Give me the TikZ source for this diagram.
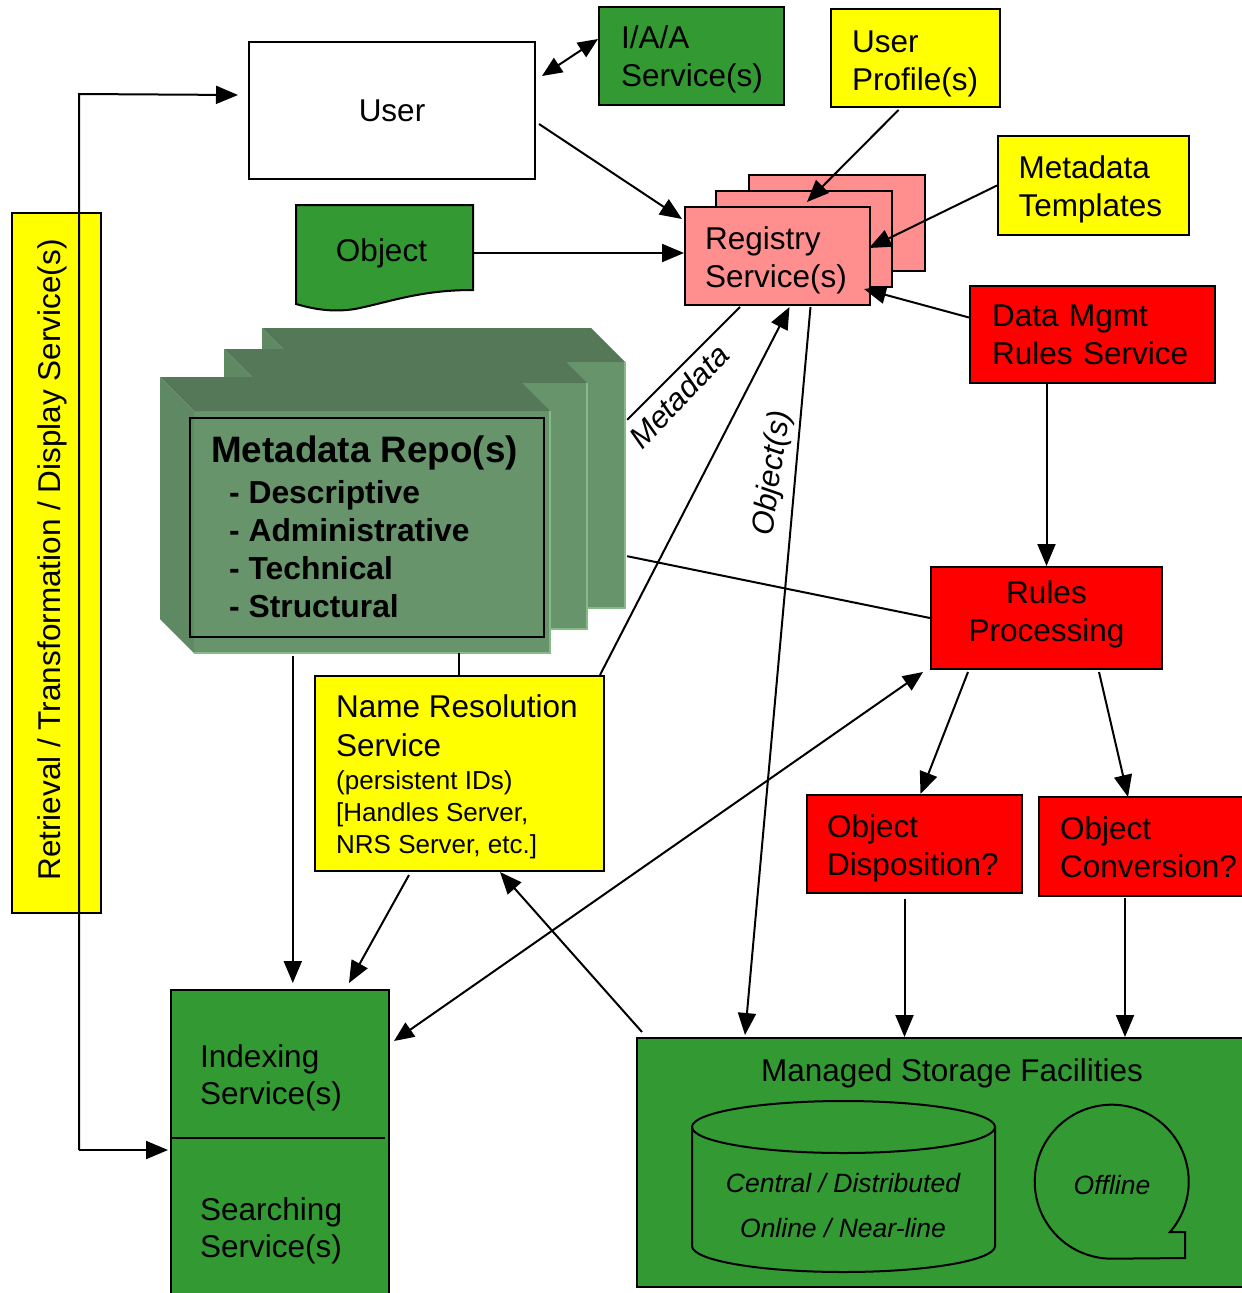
\documentclass[tikz,border=0pt]{standalone}
\usepackage{fontspec}
\setmainfont{Liberation Sans}
\usetikzlibrary{arrows.meta,calc,fit}

\definecolor{gr}{RGB}{51,153,51}
\definecolor{yl}{RGB}{255,255,0}
\definecolor{rd}{RGB}{255,0,0}
\definecolor{regpink}{RGB}{255,143,143}
\definecolor{mdtop}{RGB}{85,121,88}
\definecolor{mdside}{RGB}{95,137,98}
\definecolor{mdfront}{RGB}{104,148,108}
\definecolor{mdedge}{RGB}{134,186,134}

\newcommand\txtL{\fontsize{31.5}{38}\selectfont}
\newcommand\txtS{\fontsize{26}{32}\selectfont}
\newcommand\txtB{\fontsize{36.8}{44}\selectfont\bfseries}
\newcommand\txtM{\fontsize{31.8}{38}\selectfont\bfseries}
\newcommand\txtI{\fontsize{26.5}{32}\selectfont\itshape}
\newcommand\txtLab{\fontsize{31}{36}\selectfont\itshape}
% invisible struts that tune the first line height / last line depth
\newcommand\upstrut[1]{\rule{0pt}{#1pt}}
\newcommand\dnstrut[1]{\rule[-#1pt]{0pt}{#1pt}}

% bevelled repository box: x0, y0, x1, y1, name
\newcommand\repobox[5]{%
  \fill[mdfront] ({#1+34},{#2+34}) rectangle (#3,#4);
  \fill[mdtop] (#1,#2) -- ({#3-34},#2) -- (#3,{#2+34}) -- ({#1+34},{#2+34}) -- cycle;
  \fill[mdside] (#1,#2) -- ({#1+34},{#2+34}) -- ({#1+34},#4) -- (#1,{#4-34}) -- cycle;
  \draw[mdedge, line width=2pt] (#3,{#2+34}) -- (#3,#4) -- ({#1+34},#4);
  \node[fit={(#1,#2) (#3,#4)}, inner sep=0pt] (#5) {};
}

\tikzset{
  box/.style={draw, line width=2pt, anchor=north west, inner ysep=0pt, align=left, font=\txtL},
  plain/.style={line width=2pt},
  arr/.style={line width=2pt, -{Triangle[length=22pt,width=18pt]}},
  darr/.style={line width=2pt, {Triangle[length=20pt,width=17pt]}-{Triangle[length=20pt,width=17pt]}},
  txt/.style={anchor=base west, inner sep=0pt, font=\txtL},
}

\begin{document}
\begin{tikzpicture}[x=1pt,y=-1pt]
\useasboundingbox (0,0) rectangle (1242,1293);
\fill[white] (0,0) rectangle (1242,1293);
\clip (0,0) rectangle (1242,1293);

% ---------- top row ----------
\node[box, fill=white, align=center, text width=286pt, inner xsep=0pt, minimum height=137pt] (user) at (248,41) {User};
\node[box, fill=gr, text width=141pt, inner xsep=22pt, minimum height=98pt] (iaa) at (598,6) {\upstrut{29}I/A/A\\Service(s)};
\node[box, fill=yl, text width=127pt, inner xsep=21pt, minimum height=98pt] (uprof) at (830,8) {\upstrut{33}User\\Profile(s)};
\node[box, fill=yl, text width=150pt, inner xsep=20.5pt, minimum height=99pt] (mtmpl) at (997,135) {\upstrut{31}Metadata\\Templates};

% ---------- registry stack ----------
\node[box, fill=regpink, minimum width=176pt, minimum height=96pt] (reg3) at (748,174) {};
\node[box, fill=regpink, minimum width=176pt, minimum height=96pt] (reg2) at (715,190) {};
\node[box, fill=regpink, text width=145pt, inner xsep=20pt, minimum height=98pt] (reg) at (684,206) {\upstrut{31}Registry\\Service(s)};

\node[box, fill=rd, text width=201pt, inner xsep=22pt, minimum height=97pt] (dmrs) at (969,285) {Data Mgmt\\Rules Service};

% ---------- object document ----------
\filldraw[fill=gr, line width=2pt] (296,205) -- (473,205) -- (473,290)
  .. controls (420,290) and (390,302) .. (355,309)
  .. controls (330,313) and (310,308) .. (296,304) -- cycle;
\node[minimum width=177pt, minimum height=96pt, inner sep=0pt, font=\txtL] (obj) at (384.5,253) {Object\hspace*{6pt}};

% ---------- metadata repositories ----------
\repobox{262}{328}{625}{608}{repo3}
\repobox{224}{349}{587}{629}{repo2}
\repobox{160}{377}{550}{653}{repo1}
\node[draw, line width=2pt, anchor=north west, minimum width=354pt, minimum height=219pt, inner sep=0pt] (repo) at (189,417) {};
\node[anchor=base west, inner sep=0pt, font=\txtB] (repotitle) at (211,462) {Metadata Repo(s)};
\foreach \t [count=\i] in {Descriptive,Administrative,Technical,Structural}
  \node[anchor=base west, inner sep=0pt, font=\txtM] (item\i) at (229,{465+38*\i}) {- \t};

% ---------- rules ----------
\node[box, fill=rd, align=center, text width=231pt, inner xsep=0pt, minimum height=102pt] (rules) at (930,566) {Rules\\Processing\dnstrut{13}};
\node[box, fill=rd, text width=175pt, inner xsep=20pt, minimum height=98pt] (objdisp) at (806,794) {\upstrut{31}Object\\Disposition?};
\node[box, fill=rd, text width=185pt, inner xsep=21pt, minimum height=99pt] (objconv) at (1038,796) {\upstrut{25}Object\\Conversion?};

% ---------- name resolution ----------
\node[box, fill=yl, minimum width=289pt, minimum height=195pt] (nrs) at (314,675) {};
\node[txt] (nrs1) at (336,717) {Name Resolution};
\node[txt] (nrs2) at (336,756) {Service};
\node[txt, font=\txtS] (nrs3) at (336,789) {(persistent IDs)};
\node[txt, font=\txtS] (nrs4) at (336,821) {[Handles Server,};
\node[txt, font=\txtS] (nrs5) at (336,853) {NRS Server, etc.]};

% ---------- retrieval column ----------
\node[box, fill=yl, minimum width=89pt, minimum height=700pt] (retr) at (11,212) {};
\node[rotate=90, inner sep=0pt, font=\txtL] (retrtext) at (52,560) {Retrieval / Transformation / Display Service(s)};

% ---------- indexing / searching ----------
\node[box, fill=gr, minimum width=218pt, minimum height=311pt] (idx) at (170,989) {};
\draw[plain] ($(idx.north west)+(0,149)$) -- ($(idx.north east)+(-5,149)$);
\node[txt] (idx1) at (200,1067) {Indexing};
\node[txt] (idx2) at (200,1104) {Service(s)};
\node[txt] (srch1) at (200,1220) {Searching};
\node[txt] (srch2) at (200,1257) {Service(s)};

% ---------- managed storage ----------
\node[box, fill=gr, minimum width=614pt, minimum height=249pt] (storage) at (636,1037) {};
\node[font=\txtL] (sttitle) at (952,1073) {Managed Storage Facilities};
\filldraw[fill=gr, line width=2pt] (692,1127) -- (692,1246) arc (180:360:151.5pt and 26pt) -- (995,1127);
\draw[line width=2pt] (843.5,1127) ellipse [x radius=151.5pt, y radius=26pt];
\node[font=\txtI] (cyl1) at (843,1183) {Central / Distributed};
\node[font=\txtI] (cyl2) at (843,1228) {Online / Near-line};
\filldraw[fill=gr, line width=2pt] (1170,1232) arc (-40.8:270:77pt) -- (1185,1258) -- (1185,1232) -- cycle;
\node[font=\txtI] (offl) at (1112,1185) {Offline};

% ---------- connectors ----------
\draw[darr] ($(user.north east)+(6,35)$) -- ($(iaa.north west)+(0,33)$);
\draw[arr] ($(user.north east)+(3,83)$) -- ($(reg.north west)+(-2,13)$);
\draw[arr] (obj.east) -- (obj.east -| reg.west);
\draw[arr] ($(uprof.south)+(-17,2)$) -- ($(reg2.north)+(3,12)$);
\draw[arr] (mtmpl.west) -- ($(reg.east)+(-2,-8)$);
\draw[arr] ($(dmrs.west)+(0,-17)$) -- ($(reg.south east)+(-7,-17)$);
\draw[arr] (dmrs.south -| rules.north) -- (rules.north);

\draw[plain] ($(reg.south west)+(56,1)$) -- ($(repo3.north east)+(2,92)$);
\node[rotate=46, font=\txtLab] (mdlabel) at (679,396) {Metadata};
\draw[arr] ($(nrs.north east)+(-5,0)$) -- ($(reg.south)+(12,1)$);
\draw[arr] ($(reg.south)+(33,1)$) -- ($(storage.north west)+(109,-2)$);
\node[rotate=82, font=\txtLab] (objlabel) at (773,473) {Object(s)};

\draw[plain] ($(repo3.south east)+(2,-52)$) -- (rules.west);
\draw[darr] ($(rules.south west)+(-7,2)$) -- ($(idx.north east)+(4,52)$);
\draw[arr] ($(rules.south west)+(38,2)$) -- ($(objdisp.north)+(6,0)$);
\draw[arr] ($(rules.south east)+(-64,2)$) -- ($(objconv.north west)+(90,1)$);
\draw[arr] ($(objdisp.south)+(-10,5)$) -- ($(objdisp.south |- storage.north)+(-10,0)$);
\draw[arr] ($(objconv.south west)+(87,1)$) -- ($(objconv.south west |- storage.north)+(87,0)$);
\draw[arr] ($(storage.north west)+(6,-5)$) -- ($(nrs.south east)+(-105,0)$);
\draw[arr] ($(nrs.south west)+(95,3)$) -- ($(idx.north east)+(-41,-6)$);
\draw[arr] ($(repo1.south west)+(133,3)$) -- ($(repo1.south west |- idx.north)+(133,-6)$);
\draw[plain] ($(nrs.north west)+(145,0)$) -- ($(nrs.north west |- repo1.south)+(145,0)$);

% retrieval loop on the left
\coordinate (lbot) at (79,1150);
\coordinate (ltop) at (79,94);
\draw[arr] (lbot) -- (ltop) -- ($(user.west)+(-10,-15.5)$);
\draw[arr] (lbot) -- ($(idx.north west)+(-2,161)$);
\end{tikzpicture}
\end{document}
